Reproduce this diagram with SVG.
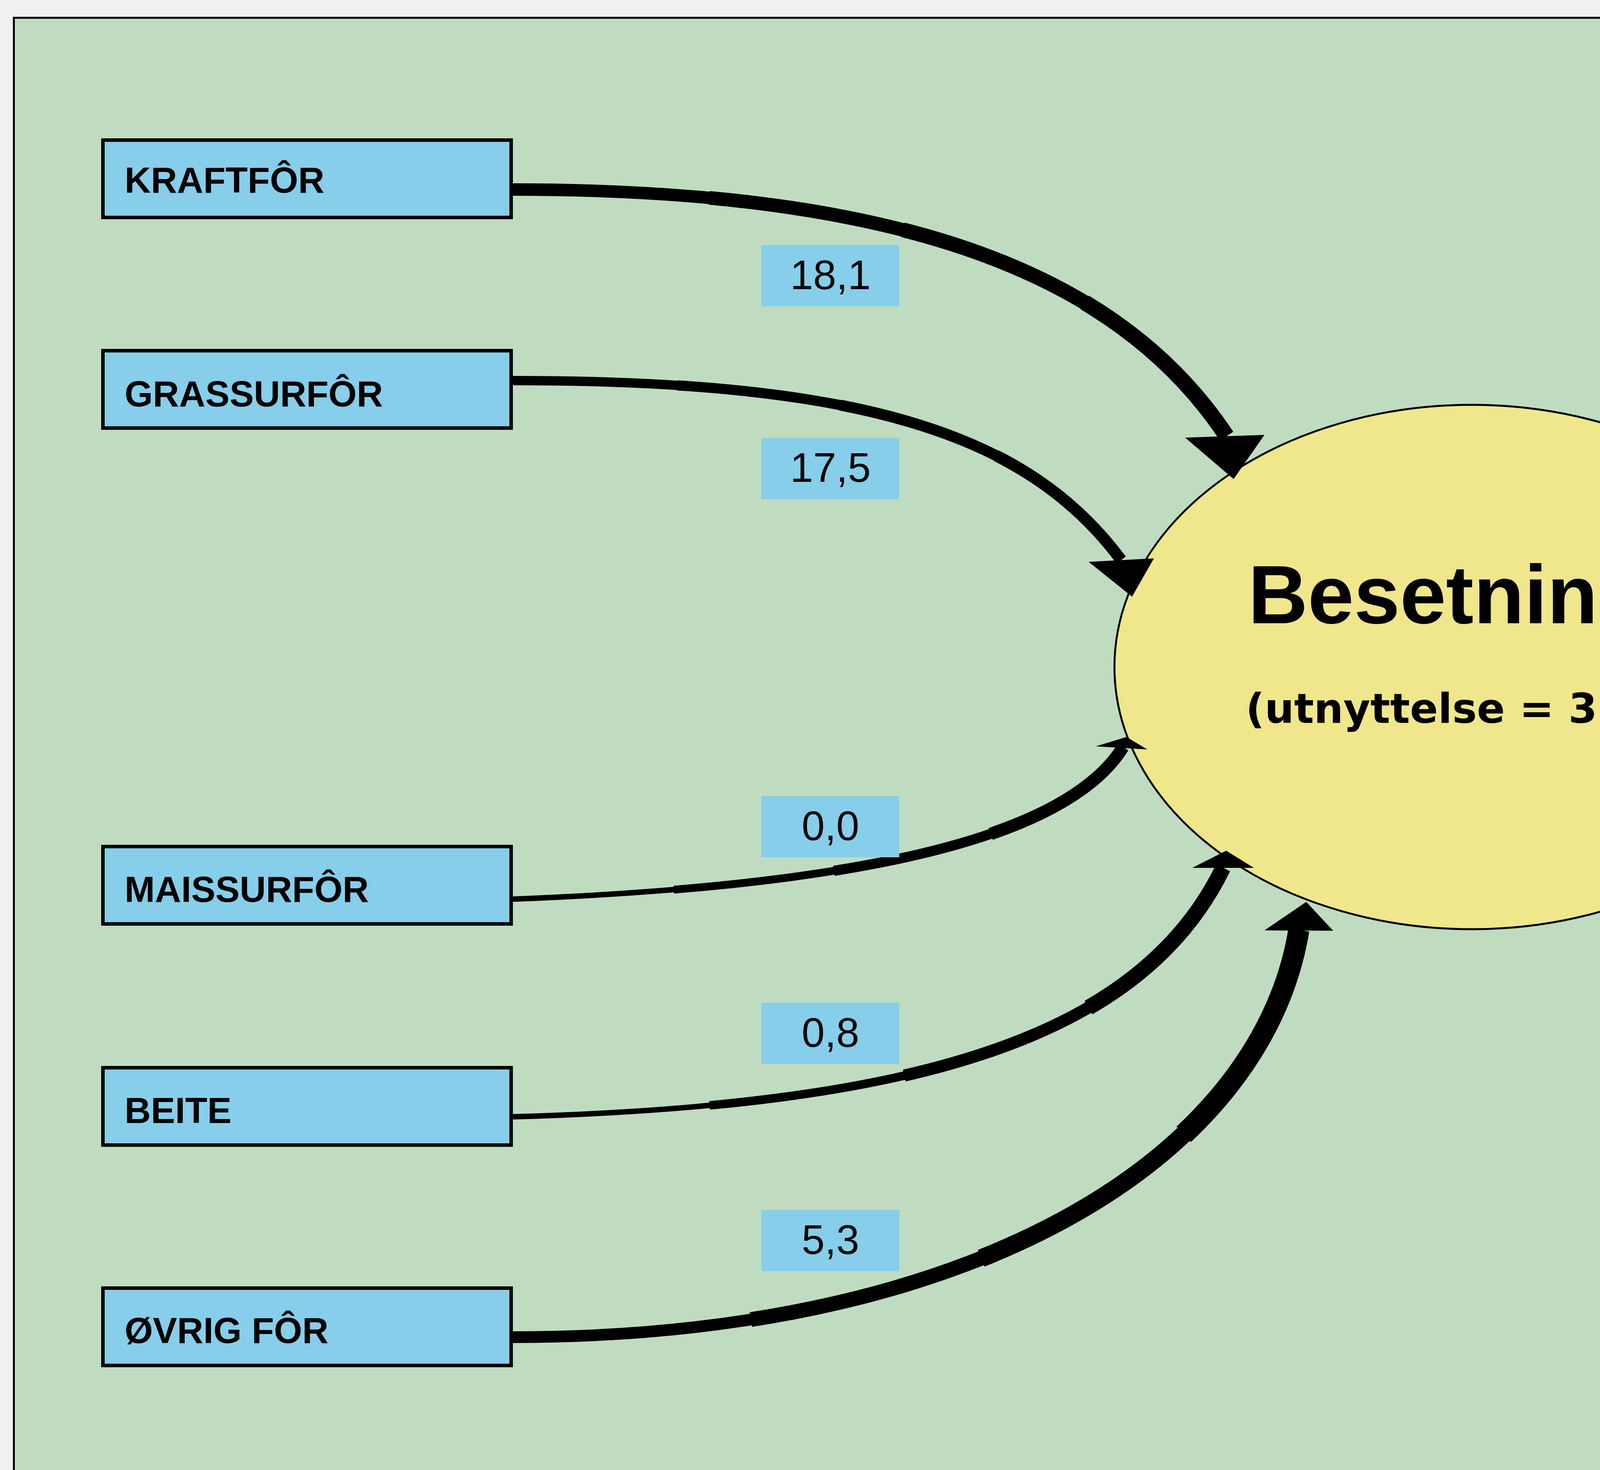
<svg xmlns="http://www.w3.org/2000/svg" width="7463" height="3762" viewBox="0 0 7463 3762">
<defs>
<style>
.node rect{fill:#87CEEB;stroke:#000;stroke-width:9}
.node.alt rect{fill:#FFA500}
.node text{font-family:"Liberation Sans",Arial,sans-serif;font-weight:bold;font-size:93px;fill:#000}
.val rect{fill:#87CEEB}
.val.alt rect{fill:#FFA500}
.val text{font-family:"Liberation Sans",Arial,sans-serif;font-size:106px;fill:#000;text-anchor:middle}
.ln{fill:none;stroke:#000;stroke-linecap:butt;stroke-linejoin:round}
.ah{fill:#000}
.hub ellipse{fill:#F0E68C;stroke:#000;stroke-width:5}
.hub text{fill:#000}
.t1{font-family:"Liberation Sans",Arial,sans-serif;font-weight:bold;font-size:212px}
.t2{font-family:"DejaVu Sans",Verdana,sans-serif;font-weight:bold;font-size:106px}
</style>
</defs>
<rect x="0" y="0" width="7463" height="3762" fill="#F0F0F0"/>
<rect x="35.5" y="45.5" width="7500" height="3800" fill="#C0DCC0" stroke="#000" stroke-width="5"/>

<g id="besetning" class="hub">
  <ellipse cx="3768" cy="1707" rx="915" ry="671"/>
  <text class="t1" x="3195" y="1595">Besetning</text>
  <text class="t2" x="3189" y="1850">(utnyttelse = 32 %)</text>
</g>

<g id="connectors">
  <g id="e-kraftfor">
    <path class="ln" stroke-width="32" d="M1313,485 C2313,485 2865,701 3140,1116"/>
    <path class="ln" stroke-width="35" pathLength="100" stroke-dasharray="0 25 75" d="M1313,485 C2313,485 2865,701 3140,1116"/>
    <path class="ln" stroke-width="38" pathLength="100" stroke-dasharray="0 50 50" d="M1313,485 C2313,485 2865,701 3140,1116"/>
    <path class="ln" stroke-width="41" pathLength="100" stroke-dasharray="0 75 25" d="M1313,485 C2313,485 2865,701 3140,1116"/>
    <polygon class="ah" points="3034,1120 3237,1113 3158,1226"/>
  </g>
  <g id="e-grassurfor">
    <path class="ln" stroke-width="24" d="M1313,974 C2213,974 2630,1111 2870,1433"/>
    <path class="ln" stroke-width="26" pathLength="100" stroke-dasharray="0 25 75" d="M1313,974 C2213,974 2630,1111 2870,1433"/>
    <path class="ln" stroke-width="28" pathLength="100" stroke-dasharray="0 50 50" d="M1313,974 C2213,974 2630,1111 2870,1433"/>
    <path class="ln" stroke-width="30" pathLength="100" stroke-dasharray="0 75 25" d="M1313,974 C2213,974 2630,1111 2870,1433"/>
    <polygon class="ah" points="2787,1438 2954,1429 2898,1527"/>
  </g>
  <g id="e-maissurfor">
    <path class="ln" stroke-width="14" d="M1313,2301 C2113,2270 2716,2167 2875,1912"/>
    <path class="ln" stroke-width="20" pathLength="100" stroke-dasharray="0 25 75" d="M1313,2301 C2113,2270 2716,2167 2875,1912"/>
    <path class="ln" stroke-width="26" pathLength="100" stroke-dasharray="0 50 50" d="M1313,2301 C2113,2270 2716,2167 2875,1912"/>
    <path class="ln" stroke-width="32" pathLength="100" stroke-dasharray="0 75 25" d="M1313,2301 C2113,2270 2716,2167 2875,1912"/>
    <polygon class="ah" points="2805,1910 2884,1886 2937,1918"/>
  </g>
  <g id="e-beite">
    <path class="ln" stroke-width="14" d="M1313,2858 C2313,2830 2913,2670 3131,2221"/>
    <path class="ln" stroke-width="22" pathLength="100" stroke-dasharray="0 25 75" d="M1313,2858 C2313,2830 2913,2670 3131,2221"/>
    <path class="ln" stroke-width="31" pathLength="100" stroke-dasharray="0 50 50" d="M1313,2858 C2313,2830 2913,2670 3131,2221"/>
    <path class="ln" stroke-width="40" pathLength="100" stroke-dasharray="0 75 25" d="M1313,2858 C2313,2830 2913,2670 3131,2221"/>
    <polygon class="ah" points="3052,2221 3139,2177 3210,2221"/>
  </g>
  <g id="e-ovrigfor">
    <path class="ln" stroke-width="30" d="M1313,3422 C2500,3422 3230,2960 3325,2380"/>
    <path class="ln" stroke-width="38" pathLength="100" stroke-dasharray="0 25 75" d="M1313,3422 C2500,3422 3230,2960 3325,2380"/>
    <path class="ln" stroke-width="46" pathLength="100" stroke-dasharray="0 50 50" d="M1313,3422 C2500,3422 3230,2960 3325,2380"/>
    <path class="ln" stroke-width="54" pathLength="100" stroke-dasharray="0 75 25" d="M1313,3422 C2500,3422 3230,2960 3325,2380"/>
    <polygon class="ah" points="3237,2381 3344,2308 3413,2382"/>
  </g>
  <g id="e-mjolk">
    <path class="ln" stroke-width="30" d="M4430,1245 C4460,750 5250,460 5988,458"/>
    <path class="ln" stroke-width="38" pathLength="100" stroke-dasharray="75 25" d="M4430,1245 C4460,750 5250,460 5988,458"/>
    <path class="ln" stroke-width="47" pathLength="100" stroke-dasharray="50 50" d="M4430,1245 C4460,750 5250,460 5988,458"/>
    <path class="ln" stroke-width="55" pathLength="100" stroke-dasharray="25 75" d="M4430,1245 C4460,750 5250,460 5988,458"/>
    <polygon class="ah" points="5980,414 6262,456 5995,503"/>
  </g>
  <g id="e-dyr">
    <path class="ln" stroke-width="18" d="M4660,1516 C4700,1200 5400,1010 6045,1001"/>
    <path class="ln" stroke-width="27" pathLength="100" stroke-dasharray="75 25" d="M4660,1516 C4700,1200 5400,1010 6045,1001"/>
    <path class="ln" stroke-width="36" pathLength="100" stroke-dasharray="50 50" d="M4660,1516 C4700,1200 5400,1010 6045,1001"/>
    <path class="ln" stroke-width="45" pathLength="100" stroke-dasharray="25 75" d="M4660,1516 C4700,1200 5400,1010 6045,1001"/>
    <polygon class="ah" points="6040,970 6275,1001 6049,1032"/>
  </g>
  <g id="e-endring">
    <path class="ln" stroke-width="16" d="M4650,1534 C4690,1900 5400,2110 6183,2116"/>
    <path class="ln" stroke-width="20" pathLength="100" stroke-dasharray="75 25" d="M4650,1534 C4690,1900 5400,2110 6183,2116"/>
    <path class="ln" stroke-width="25" pathLength="100" stroke-dasharray="50 50" d="M4650,1534 C4690,1900 5400,2110 6183,2116"/>
    <path class="ln" stroke-width="30" pathLength="100" stroke-dasharray="25 75" d="M4650,1534 C4690,1900 5400,2110 6183,2116"/>
    <polygon class="ah" points="6185,2088 6272,2118 6182,2143"/>
  </g>
  <g id="e-ekskresjon">
    <path class="ln" stroke-width="52" d="M4426,2171 C4450,2850 5150,3330 6150,3405"/>
    <polygon class="ah" points="6150,3342 6270,3417 6148,3465"/>
  </g>
</g>

<g id="edge-labels">
  <g class="val"><rect x="1949" y="627" width="353" height="157"/><text x="2126" y="740">18,1</text></g>
  <g class="val"><rect x="1949" y="1121" width="353" height="157"/><text x="2126" y="1233">17,5</text></g>
  <g class="val"><rect x="1949" y="2037" width="353" height="157"/><text x="2126" y="2150">0,0</text></g>
  <g class="val"><rect x="1949" y="2566" width="353" height="157"/><text x="2126" y="2679">0,8</text></g>
  <g class="val"><rect x="1949" y="3096" width="353" height="157"/><text x="2126" y="3209">5,3</text></g>
  <g class="val"><rect x="5335" y="627" width="353" height="157"/><text x="5512" y="740">5,6</text></g>
  <g class="val"><rect x="5335" y="1121" width="353" height="157"/><text x="5512" y="1233">-3,6</text></g>
  <g class="val"><rect x="5335" y="1756" width="353" height="155"/><text x="5512" y="1867">5,0</text></g>
  <g class="val alt"><rect x="5335" y="3026" width="353" height="157"/><text x="5512" y="3138">34,7</text></g>
</g>

<g id="kraftfor" class="node"><rect x="263.5" y="358.5" width="1045" height="198"/><text x="319" y="493">KRAFTFÔR</text></g>
<g id="grassurfor" class="node"><rect x="263.5" y="897.5" width="1045" height="198"/><text x="319" y="1040">GRASSURFÔR</text></g>
<g id="maissurfor" class="node"><rect x="263.5" y="2166.5" width="1045" height="198"/><text x="319" y="2308">MAISSURFÔR</text></g>
<g id="beite" class="node"><rect x="263.5" y="2732.5" width="1045" height="198"/><text x="319" y="2874">BEITE</text></g>
<g id="ovrigfor" class="node"><rect x="263.5" y="3296.5" width="1045" height="198"/><text x="319" y="3437">ØVRIG FÔR</text></g>

<g id="mjolk" class="node"><rect x="6273.5" y="333.5" width="959" height="198"/><text x="6323" y="475">MJØLK</text></g>
<g id="dyr" class="node"><rect x="6273.5" y="897.5" width="959" height="198"/><text x="6323" y="1040">DYR</text></g>
<g id="endring" class="node"><rect x="6273.5" y="2025.5" width="959" height="198"/><text x="6323" y="2169">ENDRING</text></g>
<g id="ekskresjon" class="node alt"><rect x="6273.5" y="3295.5" width="959" height="198"/><text x="6323" y="3439">EKSKRESJON</text></g>
</svg>
